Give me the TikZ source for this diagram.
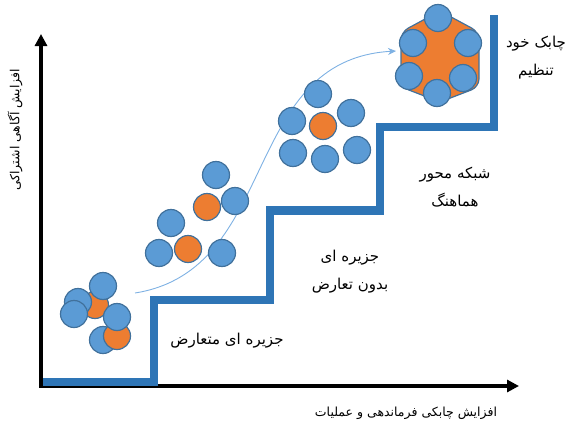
\documentclass[tikz,border=0pt]{standalone}
\usepackage{fontspec}
\usetikzlibrary{arrows.meta}
\newfontfamily\arabicfont[Script=Arabic]{DejaVu Sans}
\TeXXeTstate=1
\definecolor{stairblue}{HTML}{2E75B6}
\definecolor{circblue}{HTML}{5B9BD5}
\definecolor{circedge}{HTML}{41719C}
\definecolor{circorange}{HTML}{ED7D31}
\definecolor{curveblue}{HTML}{7EB1E3}
\tikzset{
  bc/.style={circle, fill=circblue, draw=circedge, line width=1.2pt, minimum size=27pt, inner sep=0pt},
  oc/.style={circle, fill=circorange, draw=circedge, line width=1.2pt, minimum size=27pt, inner sep=0pt},
  lbl/.style={font=\arabicfont\fontsize{15}{28}\selectfont, align=center, text=black},
  axlbl/.style={font=\arabicfont\fontsize{12.5}{15}\selectfont, text=black},
  axis/.style={line width=3.5pt, draw=black},
  stair/.style={line width=8.5pt, draw=stairblue, line cap=butt, line join=miter},
}
\begin{document}
\begin{tikzpicture}[x=1pt,y=-1pt]
\useasboundingbox (0,0) rectangle (571,426);
% axes
\coordinate (O) at (41,386);
\coordinate (Ytop) at (41,34);
\coordinate (Xend) at (519,386);
\draw[axis, -{Triangle[width=12pt,length=12pt]}] (O) -- (Ytop);
\draw[axis, -{Triangle[width=12pt,length=12pt]}] (39.25,386) -- (Xend);
% staircase
\draw[stair] (43,382) -- (154,382) -- (154,300) -- (270,300) -- (270,210.5) -- (380,210.5) -- (380,127) -- (494,127) -- (494,15);
% curve arrow
\coordinate (cs) at (135,293);
\coordinate (ce) at (396,51);
\draw[curveblue, line width=0.9pt, -{Stealth[width=7pt,length=8pt]}] (cs) .. controls (280,270) and (240,60) .. (ce);
% cluster 1
\node[oc] (a1) at (95,305) {};
\node[bc] (a2) at (78,302) {};
\node[bc] (a3) at (74,314) {};
\node[bc] (a4) at (103,286) {};
\node[bc] (a5) at (103,340) {};
\node[oc] (a6) at (117,336) {};
\node[bc] (a7) at (117,317) {};
% cluster 2/3
\node[bc] (b1) at (216,175) {};
\node[oc] (b2) at (207,207) {};
\node[bc] (b3) at (235,201) {};
\node[bc] (b4) at (171,223) {};
\node[bc] (b5) at (159,253) {};
\node[oc] (b6) at (188,249) {};
\node[bc] (b7) at (222,253) {};
% cluster 4
\node[bc] (d1) at (318,94) {};
\node[bc] (d2) at (292,121) {};
\node[oc] (d3) at (323,126) {};
\node[bc] (d4) at (351,113) {};
\node[bc] (d5) at (293,153) {};
\node[bc] (d6) at (325,159) {};
\node[bc] (d7) at (357,150) {};
% cluster 5
\fill[circorange, draw=circedge, line width=1.2pt, rounded corners=8pt]
  (440,11) -- (479,32) -- (479,87) -- (440,102) -- (401,87) -- (401,32) -- cycle;
\node[bc] (e1) at (438,18) {};
\node[bc] (e2) at (413,43) {};
\node[bc] (e3) at (468,43) {};
\node[bc] (e4) at (409,76) {};
\node[bc] (e5) at (463,78) {};
\node[bc] (e6) at (437,93) {};
% labels
\node[lbl] (t1) at (227,341) {\beginR جزیره ای متعارض\endR};
\node[lbl] (t2) at (350,272) {\beginR جزیره ای\endR\\\beginR بدون تعارض\endR};
\node[lbl] (t3) at (455,187) {\beginR شبکه محور\endR\\\beginR هماهنگ\endR};
\node[lbl] (t4) at (536,58) {\beginR چابک خود\endR\\\beginR تنظیم\endR};
\node[axlbl] (tx) at (406,413) {\beginR افزایش چابکی فرماندهی و عملیات\endR};
\node[axlbl, rotate=90] (ty) at (15,130) {\beginR افزایش آگاهی اشتراکی\endR};
\end{tikzpicture}
\end{document}
